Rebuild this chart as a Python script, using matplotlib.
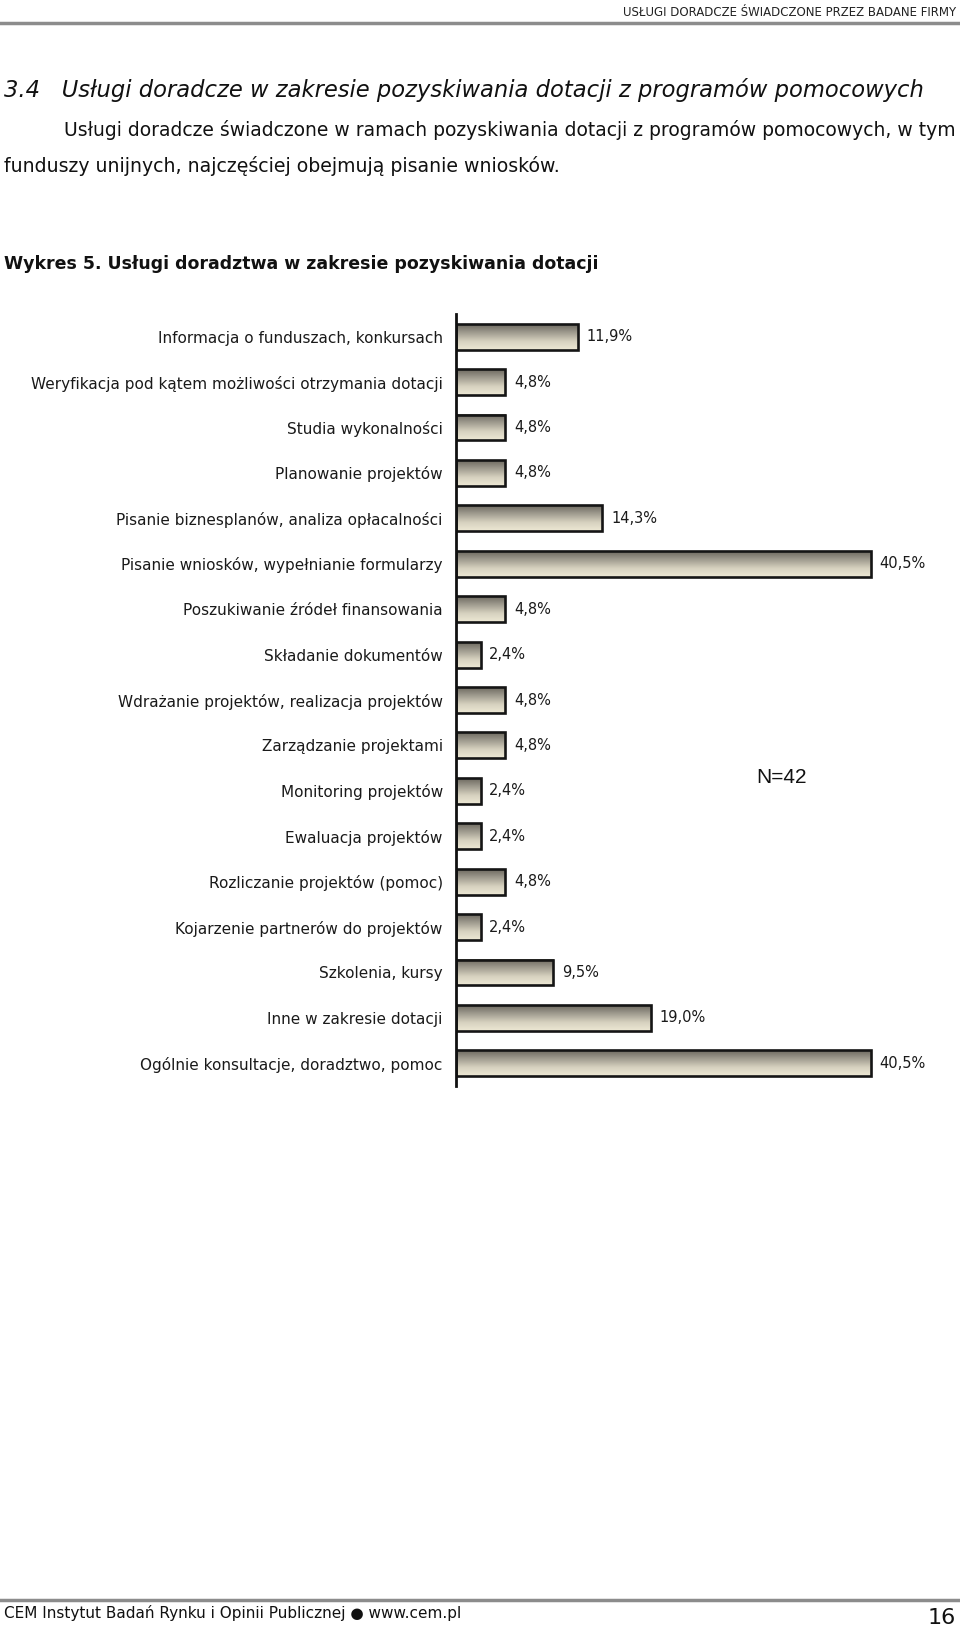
"""
Wykres 5 - uslugi doradztwa w zakresie pozyskiwania dotacji (poziome slupki z gradientem).
"""

import numpy as np
import matplotlib.pyplot as plt
from matplotlib.colors import LinearSegmentedColormap

categories = [
    "Informacja o funduszach, konkursach",
    "Weryfikacja pod kątem możliwości otrzymania dotacji",
    "Studia wykonalności",
    "Planowanie projektów",
    "Pisanie biznesplanów, analiza opłacalności",
    "Pisanie wniosków, wypełnianie formularzy",
    "Poszukiwanie źródeł finansowania",
    "Składanie dokumentów",
    "Wdrażanie projektów, realizacja projektów",
    "Zarządzanie projektami",
    "Monitoring projektów",
    "Ewaluacja projektów",
    "Rozliczanie projektów (pomoc)",
    "Kojarzenie partnerów do projektów",
    "Szkolenia, kursy",
    "Inne w zakresie dotacji",
    "Ogólnie konsultacje, doradztwo, pomoc",
]
values = [11.9, 4.8, 4.8, 4.8, 14.3, 40.5, 4.8, 2.4, 4.8, 4.8, 2.4, 2.4, 4.8, 2.4, 9.5, 19.0, 40.5]

W, H = 960, 1626
fig = plt.figure(figsize=(W / 100, H / 100), dpi=100)
fig.patch.set_facecolor("white")


def fx(px):
    return px / W


def fy(py):
    return 1 - py / H


# page header
fig.text(fx(956), fy(12), "USŁUGI DORADCZE ŚWIADCZONE PRZEZ BADANE FIRMY",
         ha="right", va="center", fontsize=8.5, color="#222222")
fig.add_artist(plt.Line2D([0, 1], [fy(23), fy(23)], color="#8c8c8c", lw=2.5))

fig.text(fx(4), fy(90), "3.4   Usługi doradcze w zakresie pozyskiwania dotacji z programów pomocowych",
         ha="left", va="center", fontsize=16.3, style="italic", color="#111111")
fig.text(fx(64), fy(130), "Usługi doradcze świadczone w ramach pozyskiwania dotacji z programów pomocowych, w tym",
         ha="left", va="center", fontsize=13.5, color="#111111")
fig.text(fx(4), fy(166), "funduszy unijnych, najczęściej obejmują pisanie wniosków.",
         ha="left", va="center", fontsize=13.6, color="#111111")
fig.text(fx(4), fy(264), "Wykres 5. Usługi doradztwa w zakresie pozyskiwania dotacji",
         ha="left", va="center", fontsize=12.5, fontweight="bold", color="#111111")

# chart
ax_left, ax_right = 456, 917
ax_top, ax_bottom = 314, 1086
ax = fig.add_axes([fx(ax_left), fy(ax_bottom), fx(ax_right - ax_left), (ax_bottom - ax_top) / H])

cmap = LinearSegmentedColormap.from_list("bar", ["#6c685f", "#a19d90", "#d6d1bf", "#ede8d4"])
grad = np.linspace(0, 1, 64).reshape(-1, 1)
h = 0.57
y = np.arange(len(categories))

for i, v in enumerate(values):
    ax.imshow(grad, cmap=cmap, aspect="auto", extent=(0, v, i + h / 2, i - h / 2),
              origin="upper", zorder=1, interpolation="bilinear")
ax.barh(y, values, height=h, facecolor="none", edgecolor="#151515", linewidth=1.9, zorder=2)

for i, v in enumerate(values):
    ax.text(v + 0.85, i, f"{v:.1f}%".replace(".", ","), ha="left", va="center",
            fontsize=10.5, color="#1a1a1a", clip_on=False)

ax.set_xlim(0, 45)
ax.set_ylim(len(categories) - 0.5, -0.5)
ax.set_yticks(y)
ax.set_yticklabels(categories, fontsize=11, color="#1a1a1a")
ax.tick_params(axis="y", length=0, pad=9.5)
ax.set_xticks([])
for s in ["top", "right", "bottom"]:
    ax.spines[s].set_visible(False)
ax.spines["left"].set_linewidth(2)
ax.spines["left"].set_color("#111111")
ax.set_facecolor("none")

fig.text(fx(782), fy(777), "N=42", ha="center", va="center", fontsize=15,
         family="Liberation Sans", color="#111111")

# page footer
fig.add_artist(plt.Line2D([0, 1], [fy(1600), fy(1600)], color="#8c8c8c", lw=2.5))
fig.text(fx(4), fy(1613), "CEM Instytut Badań Rynku i Opinii Publicznej ● www.cem.pl",
         ha="left", va="center", fontsize=11, color="#111111")
fig.text(fx(956), fy(1618), "16", ha="right", va="center", fontsize=16, color="#111111")

plt.savefig("out.png", dpi=100)
